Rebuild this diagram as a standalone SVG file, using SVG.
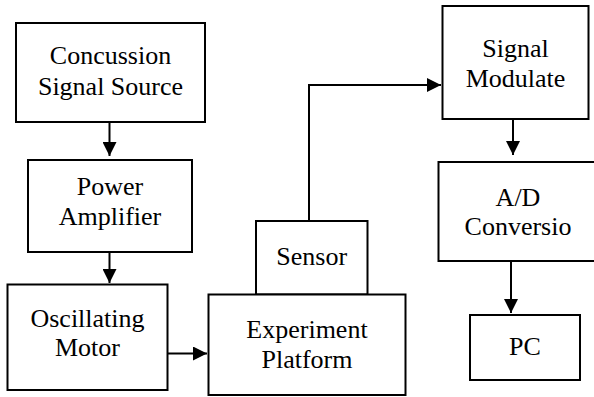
<svg xmlns="http://www.w3.org/2000/svg" width="594" height="397" viewBox="0 0 594 397">
<style>
.box{fill:#fff;stroke:#000;stroke-width:2}
text{font-family:'Liberation Serif','Times New Roman',Times,'DejaVu Serif',serif;font-size:26px;fill:#000;text-anchor:middle}
.c{fill:none;stroke:#000;stroke-width:2;marker-end:url(#ah)}
</style>
<defs>
<marker id="ah" markerUnits="userSpaceOnUse" markerWidth="14" markerHeight="14" refX="14" refY="7" orient="auto">
<path d="M0,0 L14,7 L0,14 z" fill="#000"/>
</marker>
</defs>
<rect width="594" height="397" fill="#fff"/>
<g id="connectors">
<path class="c" d="M109.5,122 V156"/>
<path class="c" d="M109.5,252 V283"/>
<path class="c" d="M168,353.5 H207"/>
<path class="c" d="M309,220 V85 H441"/>
<path class="c" d="M513,119 V155"/>
<path class="c" d="M511,261 V313"/>
</g>
<g id="concussion">
<rect class="box" x="16" y="23" width="189" height="99"/>
<text x="110.5" y="64">Concussion</text>
<text x="110.5" y="95">Signal Source</text>
</g>
<g id="power">
<rect class="box" x="28" y="160" width="164" height="92"/>
<text x="110" y="195">Power</text>
<text x="110" y="225">Amplifier</text>
</g>
<g id="oscillating">
<rect class="box" x="7.5" y="284.5" width="160" height="105.5"/>
<text x="87.5" y="327">Oscillating</text>
<text x="87.5" y="356">Motor</text>
</g>
<g id="sensor">
<rect class="box" x="256" y="221" width="111.5" height="73.5"/>
<text x="311.7" y="265">Sensor</text>
</g>
<g id="experiment">
<rect class="box" x="208.5" y="294.5" width="197" height="100.5"/>
<text x="307" y="338">Experiment</text>
<text x="307" y="368">Platform</text>
</g>
<g id="modulate">
<rect class="box" x="442.5" y="6" width="146" height="113"/>
<text x="515.5" y="57">Signal</text>
<text x="515.5" y="87">Modulate</text>
</g>
<g id="ad">
<rect class="box" x="438.5" y="162" width="159" height="99"/>
<text x="518" y="206">A/D</text>
<text x="518" y="235">Conversio</text>
</g>
<g id="pc">
<rect class="box" x="470" y="315" width="110" height="65"/>
<text x="525" y="355">PC</text>
</g>
</svg>
